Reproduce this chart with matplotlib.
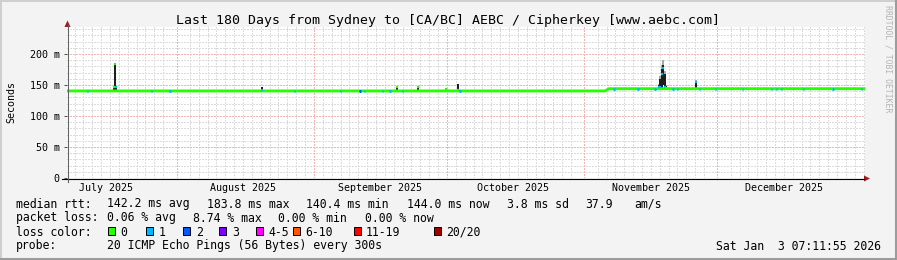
import matplotlib
matplotlib.use("Agg")
import matplotlib.pyplot as plt
import matplotlib.dates as mdates
from matplotlib.lines import Line2D
from matplotlib.patches import Polygon, Rectangle
import numpy as np
from datetime import datetime, timedelta

W, H = 897, 260
MONO = "DejaVu Sans Mono"

# ---- values ----
t_end = datetime(2026, 1, 3, 7, 11, 55)
t_start = t_end - timedelta(days=180)

# median rtt baseline (ms) breakpoints
base_time = ["2025-07-07 07:12", "2025-11-05 16:00", "2025-11-06 13:00", "2026-01-03 07:12"]
base_rtt = [140.4, 140.4, 144.0, 144.0]

# spikes: smoke spread (lo / dark core top / light top), median and loss level
spike_time = ["2025-07-17 22:00", "2025-07-18 03:00", "2025-07-18 09:00",
              "2025-08-20 07:00", "2025-09-19 18:00", "2025-09-24 12:00",
              "2025-09-30 19:00", "2025-10-03 12:00",
              "2025-11-17 17:30", "2025-11-18 03:00", "2025-11-18 11:00",
              "2025-11-18 19:00", "2025-11-19 03:00", "2025-11-19 11:00",
              "2025-11-26 05:00"]
spike_lo = [141, 141, 141, 141, 141, 141, 141, 141, 142, 143, 145, 150, 144, 142, 142]
spike_core = [145, 184, 147, 146, 145, 147, 145, 151, 150, 160, 176, 182, 168, 149, 157]
spike_hi = [146, 185, 148, 146, 146, 148, 145, 151, 151, 164, 182, 190, 172, 150, 158]
spike_med = [146, 183.8, 147, 142, 146, 147, 144, 142, 146, 146, 168, 178, 147, 145, 155]
spike_loss = [0, 0, 1, 1, 0, 0, 0, 0, 1, 1, 1, 1, 1, 0, 1]

# single samples with packet loss on the baseline
loss_time = ["2025-07-11 21:00", "2025-07-26 10:00", "2025-07-30 13:00",
             "2025-08-27 17:00", "2025-09-07 01:00", "2025-09-11 09:00",
             "2025-09-12 12:00", "2025-09-16 12:00", "2025-09-18 04:00",
             "2025-09-21 01:00", "2025-10-03 23:00", "2025-11-07 16:00",
             "2025-11-13 02:00", "2025-11-16 22:00", "2025-11-21 00:00",
             "2025-11-22 01:00", "2025-11-26 21:00", "2025-11-30 12:00",
             "2025-12-06 17:00", "2025-12-13 06:00", "2025-12-14 09:00",
             "2025-12-15 09:00", "2025-12-20 08:00", "2025-12-27 02:00",
             "2026-01-02 12:00"]
loss_rtt = [140.4] * 11 + [144.0] * 14
loss_level = [1, 1, 1, 1, 1, 2, 1, 1, 1, 1, 1, 1, 1, 1, 1,
              1, 1, 1, 1, 1, 1, 1, 1, 1, 1]

month_starts = ["2025-08-01", "2025-09-01", "2025-10-01", "2025-11-01", "2025-12-01"]
month_label_at = ["2025-07-16", "2025-08-16", "2025-09-16", "2025-10-16", "2025-11-16", "2025-12-16"]
month_labels = ["July 2025", "August 2025", "September 2025", "October 2025",
                "November 2025", "December 2025"]

y_ticks = [0, 50, 100, 150, 200]
y_labels = ["0", "50 m", "100 m", "150 m", "200 m"]

rtt_stats = [142.2, 183.8, 140.4, 144.0]
rtt_sd = 3.8
rtt_amps = 37.9
loss_stats = [0.06, 8.74, 0.00, 0.00]

loss_names = ["0", "1", "2", "3", "4-5", "6-10", "11-19", "20/20"]
loss_colors = ["#26ff00", "#00b8ff", "#0059ff", "#7e00ff", "#ff00ff",
               "#ff5500", "#ff0000", "#a10000"]


def fx(x):
    return x / W


def fy(y):
    return 1 - y / H


def dn(s):
    return mdates.date2num(datetime.strptime(s, "%Y-%m-%d %H:%M") if " " in s
                           else datetime.strptime(s, "%Y-%m-%d"))


fig = plt.figure(figsize=(W / 100, H / 100), dpi=100, facecolor="#f3f3f3")
ax = fig.add_axes([fx(67), fy(178), (865 - 67) / W, (178 - 27) / H])
ax.set_facecolor("white")
x0, x1 = mdates.date2num(t_start), mdates.date2num(t_end)
ax.set_xlim(x0, x1)
ax.set_ylim(0, 243.5)
for s in ax.spines.values():
    s.set_visible(False)

# grid: minor grey dotted, major red dotted
dots = (0, (1.4, 1.4))
grey, pink = "#dcdcdc", "#f4b4b4"
for v in range(10, 244, 10):
    if v % 50:
        ax.axhline(v, color=grey, lw=0.72, ls=dots, zorder=0, antialiased=False)
for v in y_ticks[1:]:
    ax.axhline(v, color=pink, lw=0.72, ls=dots, zorder=0.5, antialiased=False)
month_nums = [dn(s) for s in month_starts]
for d in np.arange(np.ceil(x0 / 2) * 2, x1, 2):
    if min(abs(d - m) for m in month_nums) > 1.5:
        ax.axvline(d, color=grey, lw=0.72, ls=dots, zorder=0, antialiased=False)
for d in month_nums:
    ax.axvline(d, color=pink, lw=0.72, ls=dots, zorder=0.5, antialiased=False)

# smoke
sp_t = np.array([dn(s) for s in spike_time])
sp_lo = np.array(spike_lo)
ax.bar(sp_t, np.array(spike_hi) - sp_lo, bottom=sp_lo, width=0.42,
       color="#a8a8a8", zorder=2)
ax.bar(sp_t, np.array(spike_core) - sp_lo, bottom=sp_lo, width=0.42,
       color="#1e1e1e", zorder=2.1)

# median line
ax.plot([dn(s) for s in base_time], base_rtt, color=loss_colors[0], lw=2.1,
        solid_capstyle="butt", zorder=3)
ax.hlines(spike_med, sp_t - 0.2, sp_t + 0.2,
          colors=[loss_colors[l] for l in spike_loss], lw=1.6, zorder=3.2)
lt = np.array([dn(s) for s in loss_time])
ax.hlines(loss_rtt, lt - 0.13, lt + 0.13,
          colors=[loss_colors[l] for l in loss_level], lw=2.1, zorder=3.1)

# ticks
ax.set_yticks(y_ticks, y_labels)
ax.tick_params(axis="y", length=2.2, width=0.72, color="#555555", pad=3,
               labelsize=7.2, labelfontfamily=MONO)
ax.set_xticks([dn(s) for s in month_label_at], month_labels)
ax.tick_params(axis="x", length=0, pad=3.6, labelsize=7.2, labelfontfamily=MONO)

# axis lines with arrows
fig.add_artist(Line2D([fx(62), fx(864)], [fy(178.5), fy(178.5)], color="black", lw=0.8))
fig.add_artist(Line2D([fx(67.5), fx(67.5)], [fy(182), fy(25)], color="#606060", lw=0.8))
arrow_c = "#9e1b1b"
fig.add_artist(Polygon([[fx(864), fy(175.5)], [fx(870), fy(178.5)], [fx(864), fy(181.5)]],
                       closed=True, color=arrow_c, lw=0))
fig.add_artist(Polygon([[fx(64.5), fy(27)], [fx(67.5), fy(20.5)], [fx(70.5), fy(27)]],
                       closed=True, color=arrow_c, lw=0))

# titles
fig.text(fx(447.5), fy(24), "Last 180 Days from Sydney to [CA/BC] AEBC / Cipherkey [www.aebc.com]",
         ha="center", va="baseline", fontsize=9.55, family=MONO, color="black")
fig.text(fx(11), fy(102.5), "Seconds", rotation=90, ha="center", va="center",
         fontsize=7.2, family=MONO)
fig.text(fx(887.5), fy(5), "RRDTOOL / TOBI OETIKER", rotation=270, ha="center", va="top",
         fontsize=5.9, family=MONO, color="#b4b4b4")

# legend rows
fs = 8.3
rows = [
    (207.5, [(16, "median rtt:"), (106.5, f"{rtt_stats[0]:.1f} ms avg"),
             (206.5, f"{rtt_stats[1]:.1f} ms max"), (306.5, f"{rtt_stats[2]:.1f} ms min"),
             (406.5, f"{rtt_stats[3]:.1f} ms now"), (506.5, f"{rtt_sd:.1f} ms sd"),
             (585.5, f"{rtt_amps:.1f}"), (634.5, "am/s")]),
    (221.5, [(16, "packet loss:"), (106.5, f"{loss_stats[0]:.2f} % avg"),
             (192.5, f"{loss_stats[1]:.2f} % max"), (278.5, f"{loss_stats[2]:.2f} % min"),
             (364.5, f"{loss_stats[3]:.2f} % now")]),
    (235.5, [(16, "loss color:")]),
    (249.5, [(16, "probe:"), (106.5, "20 ICMP Echo Pings (56 Bytes) every 300s")]),
]
for yb, items in rows:
    for xp, txt in items:
        fig.text(fx(xp), fy(yb), txt, ha="left", va="baseline", fontsize=fs, family=MONO)
fig.text(fx(880.5), fy(249.5), "Sat Jan  3 07:11:55 2026", ha="right", va="baseline",
         fontsize=fs, family=MONO)

sq_x = [107.5, 146, 182.5, 219, 256, 292.5, 353.5, 434]
lab_x = [120.7, 159, 195.7, 232, 268, 305.7, 365.7, 445.7]
for sx, lx, name, col in zip(sq_x, lab_x, loss_names, loss_colors):
    fig.add_artist(Rectangle((fx(sx), fy(234.5)), 7 / W, 8 / H, facecolor=col,
                             edgecolor="black", lw=0.7))
    fig.text(fx(lx), fy(235.5), name, ha="left", va="baseline", fontsize=fs, family=MONO)

# 3d frame
fig.add_artist(Line2D([0, 1], [fy(0.5), fy(0.5)], color="#cfcfcf", lw=1.4))
fig.add_artist(Line2D([fx(0.5), fx(0.5)], [0, 1], color="#cfcfcf", lw=1.4))
fig.add_artist(Line2D([0, 1], [fy(259), fy(259)], color="#9c9c9c", lw=2.2))
fig.add_artist(Line2D([fx(896), fx(896)], [0, 1], color="#9c9c9c", lw=2.2))

fig.savefig("out.png", dpi=100, facecolor=fig.get_facecolor())
